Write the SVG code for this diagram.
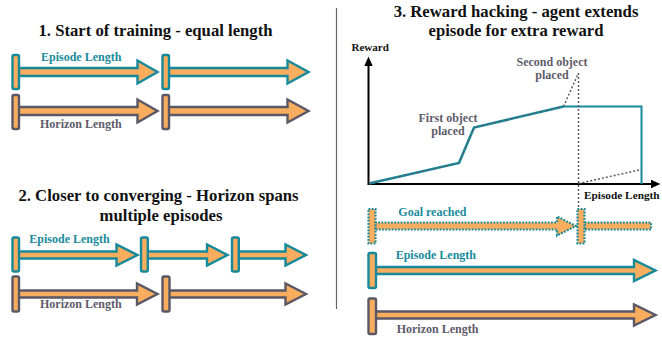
<svg xmlns="http://www.w3.org/2000/svg" width="662" height="339" viewBox="0 0 662 339">
<style>
text{font-family:"Liberation Serif","Times New Roman",serif;font-weight:bold;}
.title{font-size:16.7px;fill:#111;text-anchor:middle;}
.lbl{font-size:12px;}
.teal{fill:#1a8b9b;}
.gray{fill:#5d5b6a;}
.ep{fill:#F9AD5E;stroke:#16899a;stroke-width:2.4;stroke-linejoin:miter;}
.hz{fill:#F9AD5E;stroke:#5a5766;stroke-width:2.4;stroke-linejoin:miter;}
.dot{fill:#F9AD5E;stroke:#16899a;stroke-width:2.2;stroke-dasharray:1.8 1.4;}
.axis{stroke:#000;stroke-width:2;fill:none;}
.gdot{stroke:#5d5b6a;stroke-width:1.5;stroke-dasharray:2 2;fill:none;}
</style>

<g id="section1">
  <text class="title" x="155.5" y="36">1. Start of training - equal length</text>
  <g id="s1-episode">
    <path class="ep" d="M18,68 H137.5 V60.5 L157.5,72 L137.5,83.5 V76 H18 Z"/>
    <rect class="ep" x="12.5" y="55" width="6.5" height="34" rx="1.5"/>
    <path class="ep" d="M168,68 H287.5 V60.5 L308.5,72 L287.5,83.5 V76 H168 Z"/>
    <rect class="ep" x="162.5" y="55" width="6.5" height="34" rx="1.5"/>
    <text class="lbl teal" x="41" y="61">Episode Length</text>
  </g>
  <g id="s1-horizon">
    <path class="hz" d="M18,107 H137.5 V99.5 L157.5,111 L137.5,122.5 V115 H18 Z"/>
    <rect class="hz" x="12.5" y="95" width="6.5" height="34" rx="1.5"/>
    <path class="hz" d="M168,107 H287.5 V99.5 L308.5,111 L287.5,122.5 V115 H168 Z"/>
    <rect class="hz" x="162.5" y="95" width="6.5" height="34" rx="1.5"/>
    <text class="lbl gray" x="40" y="127.5">Horizon Length</text>
  </g>
</g>

<g id="section2">
  <text class="title" x="158.5" y="201">2. Closer to converging - Horizon spans</text>
  <text class="title" x="161" y="220.5">multiple episodes</text>
  <g id="s2-episode">
    <path class="ep" d="M18,251.5 H116.5 V244.5 L137.5,255 L116.5,265.5 V258.5 H18 Z"/>
    <rect class="ep" x="12.5" y="237.5" width="6.5" height="34" rx="1.5"/>
    <path class="ep" d="M147,251.5 H207 V244.5 L227.5,255 L207,265.5 V258.5 H147 Z"/>
    <rect class="ep" x="141" y="237.5" width="6.8" height="34" rx="1.5"/>
    <path class="ep" d="M238,251.5 H285.5 V244.5 L306,255 L285.5,265.5 V258.5 H238 Z"/>
    <rect class="ep" x="232" y="237.5" width="6.8" height="34" rx="1.5"/>
    <text class="lbl teal" x="29.3" y="243.3">Episode Length</text>
  </g>
  <g id="s2-horizon">
    <path class="hz" d="M18,290.5 H137 V283.5 L157.5,294 L137,304.5 V297.5 H18 Z"/>
    <rect class="hz" x="12.5" y="276.5" width="6.5" height="35" rx="1.5"/>
    <path class="hz" d="M168,290.5 H285.5 V283.5 L306,294 L285.5,304.5 V297.5 H168 Z"/>
    <rect class="hz" x="162.5" y="276.5" width="7" height="35" rx="1.5"/>
    <text class="lbl gray" x="40" y="308.3">Horizon Length</text>
  </g>
</g>

<line x1="336.5" y1="8" x2="336.5" y2="309" stroke="#666" stroke-width="1.2"/>

<g id="section3">
  <text class="title" x="516" y="16.7">3. Reward hacking - agent extends</text>
  <text class="title" x="516" y="36">episode for extra reward</text>
  <g id="chart">
    <line class="axis" x1="368.5" y1="185" x2="368.5" y2="64"/>
    <polygon points="368.5,56.5 364.3,66 372.7,66" fill="#000"/>
    <line class="axis" x1="368" y1="184" x2="652" y2="184"/>
    <polygon points="660.5,184 651,179.8 651,188.2" fill="#000"/>
    <text x="351.5" y="50.7" style="font-size:11px" fill="#111">Reward</text>
    <text x="584" y="199" style="font-size:11.3px" fill="#111">Episode Length</text>
    <polyline points="369,183.5 459,163 474,127.5 563.5,106.5" fill="none" stroke="#16899a" stroke-width="2.6"/>
    <polyline points="369,183.5 459,163 474,127.5 563.5,106.5" fill="none" stroke="#5d5b6a" stroke-width="1.1" stroke-dasharray="3 3"/>
    <polyline points="563.5,106.5 641.5,106.5 641.5,184" fill="none" stroke="#16899a" stroke-width="2"/>
    <polyline class="gdot" points="563.5,106.5 578.5,73"/>
    <line class="gdot" x1="578.5" y1="73" x2="578.5" y2="209" stroke-width="1.2"/>
    <line class="gdot" x1="578.5" y1="183.5" x2="641.5" y2="169.5"/>
    <text class="lbl gray" x="448" y="121.5" text-anchor="middle">First object</text>
    <text class="lbl gray" x="448" y="134.5" text-anchor="middle">placed</text>
    <text class="lbl gray" x="552" y="65.5" text-anchor="middle">Second object</text>
    <text class="lbl gray" x="552" y="79" text-anchor="middle">placed</text>
  </g>
  <g id="s3-goal">
    <path class="dot" d="M375,222.5 H557 V216.5 L576,226 L557,235.5 V229.5 H375 Z"/>
    <rect class="dot" x="368.5" y="209" width="7" height="34.5"/>
    <rect class="dot" x="584.5" y="222.5" width="66.5" height="7"/>
    <rect class="dot" x="577.5" y="209" width="7" height="34.5"/>
    <text class="lbl teal" x="398.3" y="215.7">Goal reached</text>
  </g>
  <g id="s3-episode">
    <path class="ep" d="M375.5,267 H634 V260 L655.5,270.5 L634,281 V274 H375.5 Z"/>
    <rect class="ep" x="368.5" y="253" width="7.5" height="35" rx="1.5"/>
    <text class="lbl teal" x="395.7" y="259.3">Episode Length</text>
  </g>
  <g id="s3-horizon">
    <path class="hz" d="M375.5,311.5 H634 V304.5 L655.5,315 L634,325.5 V318.5 H375.5 Z"/>
    <rect class="hz" x="368.5" y="298.5" width="7.5" height="35.5" rx="1.5"/>
    <text class="lbl gray" x="396.7" y="332.7">Horizon Length</text>
  </g>
</g>
</svg>
